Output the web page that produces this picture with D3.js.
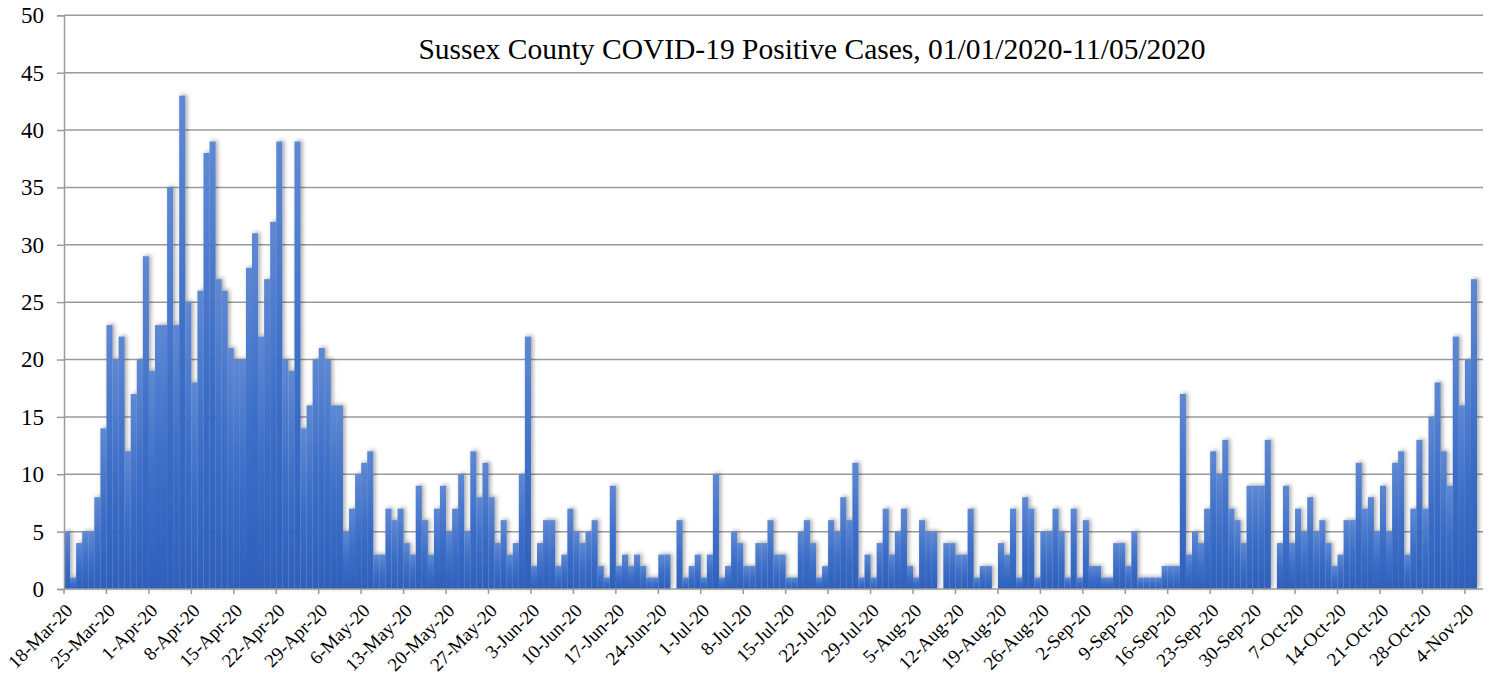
<!DOCTYPE html>
<html>
<head>
<meta charset="utf-8">
<script src="https://cdn.jsdelivr.net/npm/d3@7/dist/d3.min.js"></script>
<style>
	body { margin: 0; background: #fff; }
	svg text { font-family: "Liberation Serif", "Times New Roman", serif; fill: #000; }
</style>
</head>
<body>
<div id="chart"></div>
<script>
// daily positive cases, 18-Mar-20 .. 5-Nov-20
var firstDay = new Date(2020, 2, 18),
	lastDay = new Date(2020, 10, 5);

var cases = [
	5, 1, 4, 5, 5, 8, 14, 23, 20, 22, 12, 17, 20, 29, 19, 23, 23, 35, 23, 43, 25, 18, 26, 38, 39, 27, 26, 21, 20,
	20, 28, 31, 22, 27, 32, 39, 20, 19, 39, 14, 16, 20, 21, 20, 16, 16, 5, 7, 10, 11, 12, 3, 3, 7, 6, 7, 4, 3,
	9, 6, 3, 7, 9, 5, 7, 10, 5, 12, 8, 11, 8, 4, 6, 3, 4, 10, 22, 2, 4, 6, 6, 2, 3, 7, 5, 4, 5,
	6, 2, 1, 9, 2, 3, 2, 3, 2, 1, 1, 3, 3, 0, 6, 1, 2, 3, 1, 3, 10, 1, 2, 5, 4, 2, 2, 4, 4,
	6, 3, 3, 1, 1, 5, 6, 4, 1, 2, 6, 5, 8, 6, 11, 1, 3, 1, 4, 7, 3, 5, 7, 2, 1, 6, 5, 5, 0,
	4, 4, 3, 3, 7, 1, 2, 2, 0, 4, 3, 7, 1, 8, 7, 1, 5, 5, 7, 5, 1, 7, 1, 6, 2, 2, 1, 1, 4,
	4, 2, 5, 1, 1, 1, 1, 2, 2, 2, 17, 3, 5, 4, 7, 12, 10, 13, 7, 6, 4, 9, 9, 9, 13, 0, 4, 9, 4,
	7, 5, 8, 5, 6, 4, 2, 3, 6, 6, 11, 7, 8, 5, 9, 5, 11, 12, 3, 7, 13, 7, 15, 18, 12, 9, 22, 16, 20, 27
];

var yTicks = [0, 5, 10, 15, 20, 25, 30, 35, 40, 45, 50];
var tickEvery = 7;
var titleText = "Sussex County COVID-19 Positive Cases, 01/01/2020-11/05/2020";

var width = 1493,
	height = 675,
	plotLeft = 64,
	plotRight = 1483,
	barsEnd = 1477,
	plotTop = 15.3,
	plotBottom = 589;

var days = d3.timeDay.range(firstDay, d3.timeDay.offset(lastDay, 1));
var rows = days.map(function(d, i) { return { day: d, value: cases[i] }; });
var tickDays = days.filter(function(d, i) { return i % tickEvery === 0; });
var fmt = d3.timeFormat("%-d-%b-%y");

var x = d3.scaleBand()
	.domain(days)
	.range([plotLeft, barsEnd])
	.padding(0);

var y = d3.scaleLinear()
	.domain([0, 50])
	.range([plotBottom, plotTop]);

var svg = d3.select("#chart")
	.append("svg")
	.attr("width", width)
	.attr("height", height);

var defs = svg.append("defs");

var grad = defs.append("linearGradient")
	.attr("id", "barGrad")
	.attr("x1", 0).attr("y1", 0)
	.attr("x2", 0).attr("y2", 1);
grad.append("stop").attr("offset", "0%").attr("stop-color", "#5e88d3");
grad.append("stop").attr("offset", "50%").attr("stop-color", "#3d6fc8");
grad.append("stop").attr("offset", "100%").attr("stop-color", "#2e60bb");

var shadow = defs.append("filter")
	.attr("id", "shadow")
	.attr("x", "-5%").attr("y", "-5%")
	.attr("width", "110%").attr("height", "110%");
shadow.append("feDropShadow")
	.attr("dx", 2)
	.attr("dy", -1)
	.attr("stdDeviation", 2.2)
	.attr("flood-color", "#000")
	.attr("flood-opacity", 0.35);

// gridlines
svg.append("g")
	.selectAll("line")
	.data(yTicks.slice(1))
	.enter().append("line")
	.attr("x1", plotLeft)
	.attr("x2", plotRight)
	.attr("y1", function(d) { return y(d); })
	.attr("y2", function(d) { return y(d); })
	.style("stroke", "#9a9a9a")
	.style("stroke-width", 1.5);

// bars
svg.append("g")
	.attr("filter", "url(#shadow)")
	.selectAll("rect")
	.data(rows)
	.enter().append("rect")
	.attr("x", function(d) { return x(d.day); })
	.attr("y", function(d) { return y(d.value); })
	.attr("width", x.bandwidth())
	.attr("height", function(d) { return plotBottom - y(d.value); })
	.style("fill", "url(#barGrad)");

// y axis
var yAxis = svg.append("g")
	.attr("transform", "translate(" + plotLeft + ",0)")
	.call(d3.axisLeft(y).tickValues(yTicks).tickSize(7).tickPadding(13));
yAxis.select(".domain").style("stroke", "#9a9a9a").style("stroke-width", 1.5);
yAxis.selectAll(".tick line").style("stroke", "#9a9a9a").style("stroke-width", 1.5);
yAxis.selectAll("text")
	.style("font-size", "23px")
	.style("font-family", "'Liberation Serif', serif");

// x axis
var xAxis = svg.append("g")
	.attr("transform", "translate(0," + plotBottom + ")")
	.call(d3.axisBottom(x).tickValues(tickDays).tickFormat(fmt).tickSize(5).tickSizeOuter(0));
xAxis.select(".domain")
	.attr("d", "M" + plotLeft + ",0H" + plotRight)
	.style("stroke", "#9a9a9a").style("stroke-width", 1.5);
xAxis.selectAll(".tick line")
	.attr("x1", -x.bandwidth() / 2)
	.attr("x2", -x.bandwidth() / 2)
	.style("stroke", "#9a9a9a").style("stroke-width", 1.5);
xAxis.selectAll(".tick text")
	.attr("x", 0).attr("y", 0).attr("dy", "0.35em")
	.attr("text-anchor", "end")
	.attr("transform", "translate(2,18) rotate(-45)")
	.style("font-size", "19px")
	.style("font-family", "'Liberation Serif', serif");

// title
svg.append("text")
	.attr("x", 812)
	.attr("y", 59)
	.attr("text-anchor", "middle")
	.style("font-size", "29.5px")
	.text(titleText);
</script>
</body>
</html>
